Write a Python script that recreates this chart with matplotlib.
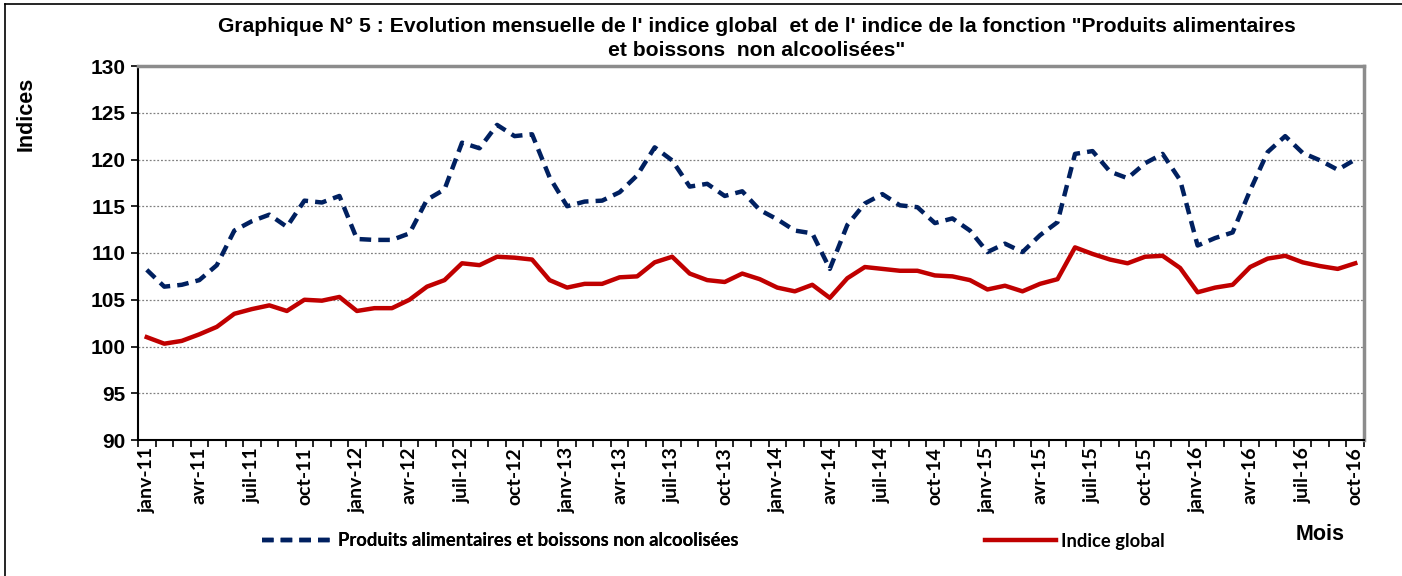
import matplotlib
matplotlib.use('Agg')
import matplotlib.pyplot as plt
from matplotlib.lines import Line2D

# mois de janv-11 a oct-16
mois_noms = ['janv', 'févr', 'mars', 'avr', 'mai', 'juin',
             'juil', 'août', 'sept', 'oct', 'nov', 'déc']
mois = [f"{mois_noms[m % 12]}-{11 + m // 12}" for m in range(70)]

alim = [108.2, 106.4, 106.6, 107.1, 108.7, 112.4, 113.4, 114.1, 112.8, 115.6,
        115.4, 116.1, 111.5, 111.4, 111.4, 112.1, 115.7, 116.8, 121.8, 121.2,
        123.7, 122.5, 122.7, 118.1, 115.0, 115.5, 115.6, 116.5, 118.3, 121.3,
        119.9, 117.1, 117.4, 116.1, 116.6, 114.6, 113.6, 112.4, 112.1, 108.3,
        113.0, 115.3, 116.3, 115.1, 114.9, 113.2, 113.7, 112.4, 110.1, 111.0,
        110.1, 111.9, 113.3, 120.6, 120.9, 118.7, 118.0, 119.6, 120.6, 117.8,
        110.8, 111.6, 112.2, 116.7, 120.8, 122.5, 120.7, 119.9, 118.9, 120.0]

globale = [101.0, 100.3, 100.6, 101.3, 102.1, 103.5, 104.0, 104.4, 103.8, 105.0,
           104.9, 105.3, 103.8, 104.1, 104.1, 105.0, 106.4, 107.1, 108.9, 108.7,
           109.6, 109.5, 109.3, 107.1, 106.3, 106.7, 106.7, 107.4, 107.5, 109.0,
           109.6, 107.8, 107.1, 106.9, 107.8, 107.2, 106.3, 105.9, 106.6, 105.2,
           107.3, 108.5, 108.3, 108.1, 108.1, 107.6, 107.5, 107.1, 106.1, 106.5,
           105.9, 106.7, 107.2, 110.6, 109.9, 109.3, 108.9, 109.6, 109.7, 108.4,
           105.8, 106.3, 106.6, 108.5, 109.4, 109.7, 109.0, 108.6, 108.3, 108.9]

arial = ['Liberation Sans', 'DejaVu Sans']
calibri = ['Lato', 'DejaVu Sans']

W, H = 1402, 576
fig = plt.figure(figsize=(W / 100, H / 100), dpi=100)
ax = fig.add_axes([138 / W, 1 - 440 / H, (1364 - 138) / W, (440 - 66) / H])

x = list(range(len(mois)))
ax.plot(x, alim, color='#002060', linewidth=3.2, linestyle=(0, (2.6, 1.6)),
        label='Produits alimentaires et boissons non alcoolisées')
ax.plot(x, globale, color='#C00000', linewidth=3.2, label='Indice global')

ax.set_xlim(-0.5, len(mois) - 0.5)
ax.set_ylim(90, 130)
ax.set_yticks(range(90, 131, 5))

# grille pointillee
for v in range(95, 130, 5):
    ax.axhline(v, color='#808080', linewidth=0.9, linestyle=(0, (1.5, 1.5)), zorder=0)

# ticks x entre les categories, etiquettes tous les 3 mois
ax.set_xticks([i - 0.5 for i in range(len(mois) + 1)])
ax.set_xticklabels([])
ax.set_xticks(x[::3], minor=True)
ax.set_xticklabels(mois[::3], minor=True, rotation=90, fontsize=14,
                   fontweight='bold', family=calibri)
ax.tick_params(axis='x', which='minor', length=0, pad=5)
ax.tick_params(axis='x', which='major', length=5, width=1.2, direction='out')
ax.tick_params(axis='y', length=5, width=1.2, pad=4)
for t in ax.get_yticklabels():
    t.set_fontsize(15)
    t.set_fontweight('bold')
    t.set_family(arial)

ax.spines['left'].set_linewidth(1.5)
ax.spines['bottom'].set_linewidth(1.5)
ax.spines['top'].set_color('#8C8C8C')
ax.spines['right'].set_color('#8C8C8C')
ax.spines['top'].set_linewidth(2.5)
ax.spines['right'].set_linewidth(2.5)

ax.set_ylabel('Indices', fontsize=15.5, fontweight='bold', family=arial)
ax.yaxis.set_label_coords(-0.083, 0.872)

fig.text(757 / W, 1 - 27 / H,
         "Graphique N° 5 : Evolution mensuelle de l' indice global  et de l' indice de la fonction \"Produits alimentaires",
         ha='center', va='center', fontsize=15.25, fontweight='bold', family=arial)
fig.text(757 / W, 1 - 50 / H, "et boissons  non alcoolisées\"",
         ha='center', va='center', fontsize=15.25, fontweight='bold', family=arial)

fig.text(1320 / W, 1 - 535 / H, 'Mois', ha='center', va='center', fontsize=15.5,
         fontweight='bold', family=arial)

# legende
h1 = Line2D([0], [0], color='#002060', linewidth=3.2, linestyle=(0, (2.6, 1.6)))
h2 = Line2D([0], [0], color='#C00000', linewidth=3.2)
leg_style = dict(frameon=False, handlelength=3.85, handletextpad=0.27,
                 borderaxespad=0, borderpad=0,
                 prop={'family': calibri, 'weight': 'bold', 'size': 13.2})
leg1 = fig.legend([h1], ['Produits alimentaires et boissons non alcoolisées'],
                  loc='center left', bbox_to_anchor=(262 / W, 1 - 541 / H), **leg_style)
leg2 = fig.legend([h2], ['Indice global'],
                  loc='center left', bbox_to_anchor=(985 / W, 1 - 541 / H), **leg_style)
fig.add_artist(leg1)

# cadre exterieur (haut et gauche)
fig.add_artist(Line2D([5 / W, 5 / W], [0, 1 - 4 / H], color='black', linewidth=1.2))
fig.add_artist(Line2D([5 / W, 1], [1 - 4 / H, 1 - 4 / H], color='black', linewidth=1.2))

fig.savefig('out.png', dpi=100)
